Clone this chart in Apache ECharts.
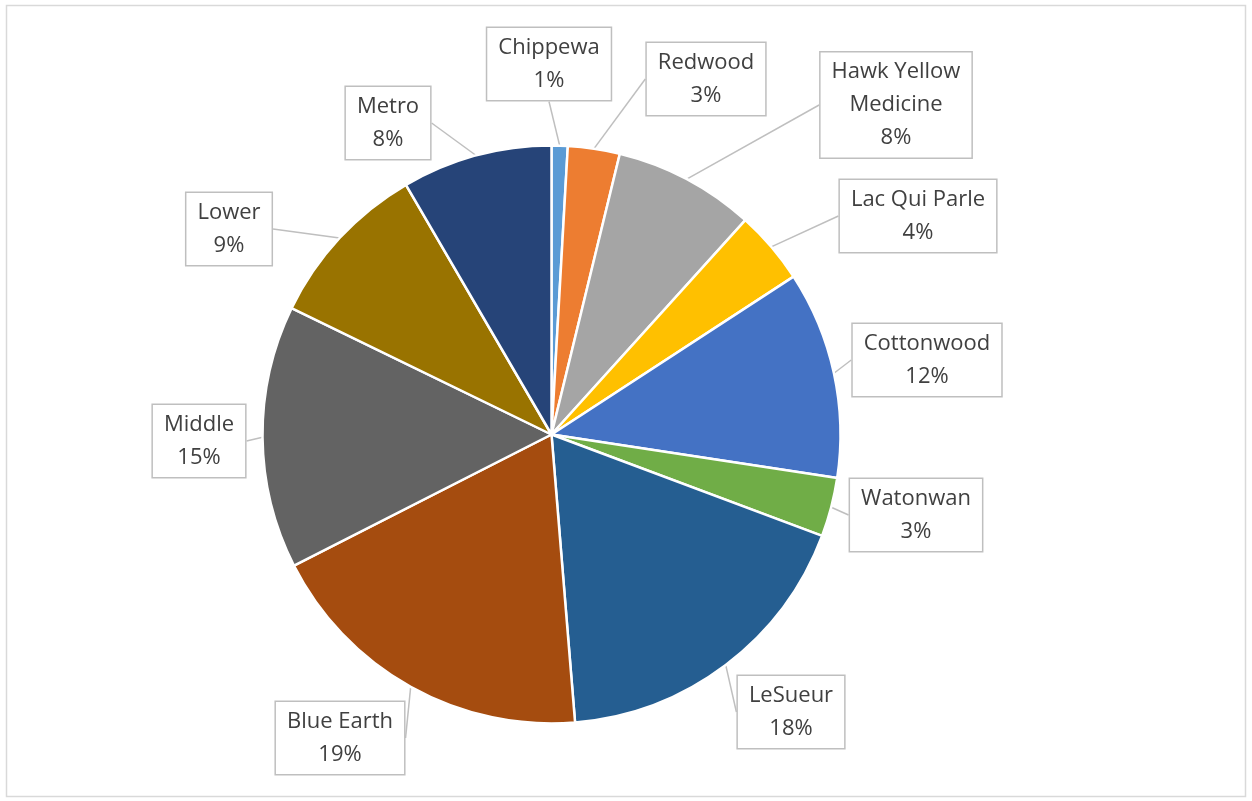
<!DOCTYPE html>
<html>
<head>
<meta charset="utf-8">
<title>Share by watershed district</title>
<script src="https://cdn.jsdelivr.net/npm/echarts@6/dist/echarts.min.js"></script>
<style>
  html, body { margin: 0; padding: 0; background: #ffffff; }
  #chart { width: 1252px; height: 801px; }
</style>
</head>
<body>
<div id="chart"></div>
<script>
// Districts, clockwise from 12 o'clock
const districts = ['Chippewa', 'Redwood', 'Hawk Yellow\nMedicine', 'Lac Qui Parle', 'Cottonwood',
  'Watonwan', 'LeSueur', 'Blue Earth', 'Middle', 'Lower', 'Metro'];
// Share of total, percent
const shares = [0.9, 2.9, 7.9, 4.1, 11.6, 3.3, 18.0, 18.8, 14.7, 9.4, 8.4];
const sliceColors = ['#5B9BD5', '#ED7D31', '#A5A5A5', '#FFC000', '#4472C4', '#70AD47',
  '#255E91', '#A54C0F', '#636363', '#997300', '#264478'];

// Callout box centres (px) for each slice label
const calloutCenters = [
  [549, 64], [706, 79], [896, 105], [918, 216], [927, 360], [916, 515],
  [791, 712], [340, 738], [199, 441], [229, 229], [388, 123]
];

const chart = echarts.init(document.getElementById('chart'), null, { renderer: 'canvas' });

const pieData = districts.map((name, i) => ({
  name: name,
  value: shares[i],
  itemStyle: { color: sliceColors[i] }
}));

chart.setOption({
  animation: false,
  backgroundColor: '#ffffff',
  graphic: [{
    type: 'rect',
    shape: { x: 6.5, y: 5.5, width: 1239, height: 791 },
    style: { fill: 'none', stroke: '#d9d9d9', lineWidth: 1.5 },
    silent: true
  }],
  series: [{
    type: 'pie',
    center: [551.5, 434.5],
    radius: 289,
    startAngle: 90,
    clockwise: true,
    avoidLabelOverlap: false,
    data: pieData,
    itemStyle: { borderColor: '#ffffff', borderWidth: 2.5 },
    label: {
      show: true,
      position: 'outside',
      formatter: p => p.name + '\n' + Math.round(p.percent) + '%',
      fontFamily: 'Open Sans',
      fontSize: 22,
      lineHeight: 33,
      color: '#404040',
      align: 'center',
      backgroundColor: '#ffffff',
      borderColor: '#bfbfbf',
      borderWidth: 1.5,
      padding: [4, 11, 2, 11]
    },
    labelLine: {
      show: true,
      length: 20,
      length2: 0,
      lineStyle: { color: '#bfbfbf', width: 1.5 }
    },
    labelLayout: params => ({
      x: calloutCenters[params.dataIndex][0],
      y: calloutCenters[params.dataIndex][1],
      align: 'center',
      verticalAlign: 'middle'
    })
  }]
});
</script>
</body>
</html>
